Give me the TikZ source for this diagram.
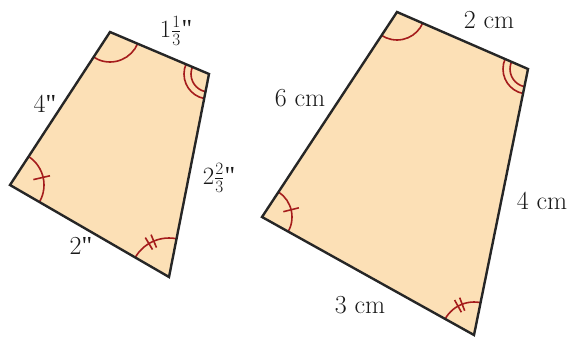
\documentclass[tikz,border=0pt]{standalone}
\usepackage{fontspec}
\usetikzlibrary{calc}
\newfontfamily\inchfont{Liberation Serif}
\newcommand{\inch}{{\inchfont"}}
\definecolor{quadfill}{RGB}{252,224,182}
\definecolor{arcred}{RGB}{165,28,28}

\begin{document}
\begin{tikzpicture}[x=1pt, y=-1pt,
    quad/.style={draw=black!85, line width=2.4pt, line join=miter},
    anglearc/.style={draw=arcred, line width=1.6pt},
    lbl/.style={font=\fontsize{26}{30}\selectfont, text=black!90},
]
    \useasboundingbox (0,0) rectangle (572,337);

    % small quadrilateral
    \coordinate (la) at (110,32);
    \coordinate (lb) at (209,74);
    \coordinate (lc) at (169,277);
    \coordinate (ld) at (10,185);
    \fill[quadfill] (la) -- (lb) -- (lc) -- (ld) -- cycle;
    \begin{scope}
        \clip (la) -- (lb) -- (lc) -- (ld) -- cycle;
        \draw[anglearc] (la) circle (30pt);
        \draw[anglearc] (lb) circle (18pt) (lb) circle (25pt);
        \draw[anglearc] (lc) circle (39pt);
        \draw[anglearc] (ld) circle (34pt);
    \end{scope}
    \draw[anglearc] ($(ld)+(-13:24)$) -- ($(ld)+(-13:41)$);
    \draw[anglearc] ($(lc)+(-113:32)$) -- ($(lc)+(-113:46)$);
    \draw[anglearc] ($(lc)+(-121:32)$) -- ($(lc)+(-121:46)$);
    \draw[quad] (la) -- (lb) -- (lc) -- (ld) -- cycle;

    % large quadrilateral
    \coordinate (ra) at (397,12);
    \coordinate (rb) at (528,69);
    \coordinate (rc) at (474,335);
    \coordinate (rd) at (262,217);
    \fill[quadfill] (ra) -- (rb) -- (rc) -- (rd) -- cycle;
    \begin{scope}
        \clip (ra) -- (rb) -- (rc) -- (rd) -- cycle;
        \draw[anglearc] (ra) circle (28pt);
        \draw[anglearc] (rb) circle (18pt) (rb) circle (25pt);
        \draw[anglearc] (rc) circle (33pt);
        \draw[anglearc] (rd) circle (30pt);
    \end{scope}
    \draw[anglearc] ($(rd)+(-14:22)$) -- ($(rd)+(-14:38)$);
    \draw[anglearc] ($(rc)+(-111:26)$) -- ($(rc)+(-111:40)$);
    \draw[anglearc] ($(rc)+(-119:26)$) -- ($(rc)+(-119:40)$);
    \draw[quad] (ra) -- (rb) -- (rc) -- (rd) -- cycle;

    % side lengths
    \node[lbl] (ltop)    at (176,31)  {$1\frac{1}{3}$\inch};
    \node[lbl] (lleft)   at (45,104)  {4\inch};
    \node[lbl] (lright)  at (219,178) {$2\frac{2}{3}$\inch};
    \node[lbl] (lbottom) at (81,246)  {2\inch};
    \node[lbl] (rtop)    at (489,20)  {2 cm};
    \node[lbl] (rleft)   at (300,98)  {6 cm};
    \node[lbl] (rright)  at (542,201) {4 cm};
    \node[lbl] (rbottom) at (360,305) {3 cm};
\end{tikzpicture}
\end{document}
